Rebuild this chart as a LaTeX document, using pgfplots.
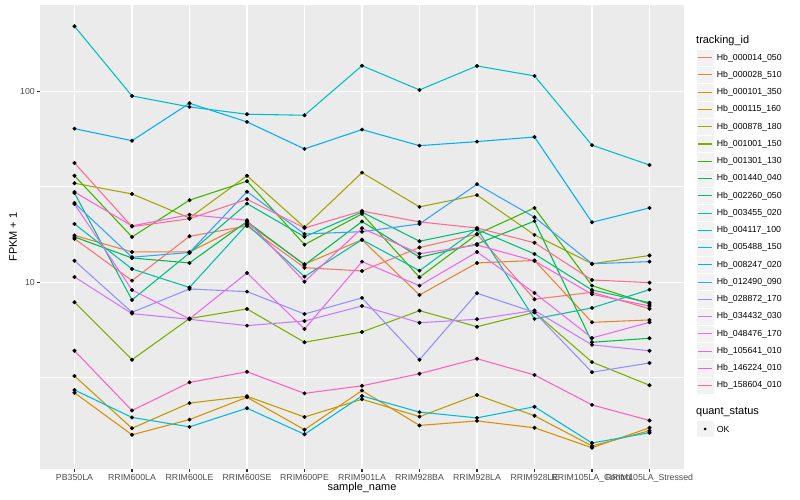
\documentclass[border=0pt]{standalone}
\usepackage{fontspec}
\setmainfont{Liberation Sans}
\usepackage{pgfplots}
\usepackage{pgfplotstable}
\pgfplotsset{compat=1.18}
\definecolor{c1}{HTML}{F8766D}
\definecolor{c2}{HTML}{EA8331}
\definecolor{c3}{HTML}{D89000}
\definecolor{c4}{HTML}{C09B00}
\definecolor{c5}{HTML}{A3A500}
\definecolor{c6}{HTML}{7CAE00}
\definecolor{c7}{HTML}{39B600}
\definecolor{c8}{HTML}{00BB4E}
\definecolor{c9}{HTML}{00BF7D}
\definecolor{c10}{HTML}{00C1A3}
\definecolor{c11}{HTML}{00BFC4}
\definecolor{c12}{HTML}{00BAE0}
\definecolor{c13}{HTML}{00B0F6}
\definecolor{c14}{HTML}{35A2FF}
\definecolor{c15}{HTML}{9590FF}
\definecolor{c16}{HTML}{C77CFF}
\definecolor{c17}{HTML}{E76BF3}
\definecolor{c18}{HTML}{FA62DB}
\definecolor{c19}{HTML}{FF62BC}
\definecolor{c20}{HTML}{FF6C91}
\definecolor{panel}{HTML}{EBEBEB}
\definecolor{keybg}{HTML}{F2F2F2}
\definecolor{ticklab}{HTML}{4D4D4D}
\definecolor{tickcol}{HTML}{333333}

\pgfplotstableread{
x s1 s2 s3 s4 s5 s6 s7 s8 s9 s10 s11 s12 s13 s14 s15 s16 s17 s18 s19 s20
0 16.9 17.6 2.64 3.23 33.0 7.86 36.1 17.27 29.3 20.2 218.9 2.73 63.7 26.0 12.97 10.66 25.7 29.7 4.38 42.1
1 10.2 14.41 1.59 1.72 29.0 3.93 17.27 13.4 8.08 11.74 94.5 1.96 55.1 13.52 6.96 6.85 9.11 19.72 2.13 19.55
2 17.4 14.41 1.91 2.33 21.7 6.46 26.9 12.62 14.23 9.39 82.8 1.75 86.5 14.32 9.22 6.40 6.43 22.6 2.99 21.5
3 19.72 20.4 2.50 2.53 36.1 7.25 33.8 20.8 25.8 20.1 75.8 2.19 69.1 29.8 8.93 5.93 11.19 21.1 3.40 27.2
4 11.92 12.42 1.69 1.97 19.4 4.85 15.74 12.32 17.3 10.7 74.9 1.60 49.9 17.9 6.82 6.27 5.69 10.07 2.62 19.24
5 11.46 16.7 2.71 2.44 37.5 5.49 22.8 20.8 23.3 16.7 136.1 2.54 63.0 18.4 8.28 7.51 12.82 19.17 2.87 23.6
6 15.2 8.58 1.78 1.98 24.8 7.10 10.62 13.52 16.4 11.5 101.6 2.09 51.9 20.2 3.93 6.14 9.60 14.11 3.32 20.7
7 17.84 12.62 1.88 2.57 28.6 5.85 17.84 15.87 18.9 19.08 135.7 1.95 54.5 32.6 8.76 6.40 14.41 15.68 3.98 19.24
8 8.15 13.0 1.73 2.00 17.7 6.96 24.5 20.9 14.07 6.43 120.3 2.23 57.6 21.9 6.96 7.12 8.79 12.93 3.27 16.1
9 8.86 6.17 1.36 1.39 12.5 3.82 9.60 4.85 9.11 7.34 52.2 1.44 20.6 12.5 3.38 4.70 5.11 8.65 2.28 10.28
10 7.27 6.35 1.73 1.67 13.8 2.89 7.70 5.09 7.82 9.15 41.1 1.63 24.5 12.82 3.78 4.38 6.17 7.51 1.89 9.95
}\datatab

\begin{document}
\begin{tikzpicture}
\useasboundingbox (0,0) rectangle (800bp,500bp);
\fill[white] (0,0) rectangle (800bp,500bp);
\begin{axis}[
  at={(40bp,31.1bp)}, anchor=south west,
  width=644bp, height=463.7bp, scale only axis,
  ymode=log, ymin=1.054, ymax=282.2,
  xmin=-0.6, xmax=10.6,
  axis background/.style={fill=panel},
  axis line style={draw=none},
  xtick={0,...,10},
  xticklabels={PB350LA,RRIM600LA,RRIM600LE,RRIM600SE,RRIM600PE,RRIM901LA,RRIM928BA,RRIM928LA,RRIM928LE,RRIM105LA\_Control,RRIM105LA\_Stressed},
  ytick={10,100}, yticklabels={10,100},
  minor ytick={3.16228,31.6228},
  minor tick length=0pt,
  grid=both,
  major grid style={white, line width=1.07bp},
  minor grid style={white, line width=0.53bp},
  tick pos=left,
  tick align=outside, major tick length=2.75bp,
  tick style={tickcol, line width=1.07bp},
  ticklabel style={font=\fontsize{8.8}{10}\selectfont, text=ticklab},
  xticklabel style={anchor=north, inner sep=0pt, yshift=-2.2bp},
  yticklabel style={anchor=east, inner sep=0pt, xshift=-2.2bp},
]
\pgfplotsinvokeforeach{1,...,20}{
  \addplot[color=c#1, line width=1.07bp, no marks] table[x=x, y=s#1] {\datatab};
}
\pgfplotsinvokeforeach{1,...,20}{
  \addplot[only marks, mark=*, mark size=1.8bp, black] table[x=x, y=s#1] {\datatab};
}
\end{axis}
\node[font=\fontsize{11}{13}\selectfont, rotate=90] at (13bp,263bp) {FPKM + 1};
\node[font=\fontsize{11}{13}\selectfont] at (362bp,12bp) {sample\_name};
\node[anchor=west, inner sep=0pt, font=\fontsize{11}{13}\selectfont] at (696bp,459.3bp) {tracking\_id};
\foreach \nm/\col [count=\i from 0] in {Hb\_000014\_050/c1,Hb\_000028\_510/c2,Hb\_000101\_350/c3,Hb\_000115\_160/c4,Hb\_000878\_180/c5,Hb\_001001\_150/c6,Hb\_001301\_130/c7,Hb\_001440\_040/c8,Hb\_002260\_050/c9,Hb\_003455\_020/c10,Hb\_004117\_100/c11,Hb\_005488\_150/c12,Hb\_008247\_020/c13,Hb\_012490\_090/c14,Hb\_028872\_170/c15,Hb\_034432\_030/c16,Hb\_048476\_170/c17,Hb\_105641\_010/c18,Hb\_146224\_010/c19,Hb\_158604\_010/c20}{
  \pgfmathsetmacro{\yy}{442.3-\i*17.26}
  \fill[keybg, draw=white, line width=0.5bp] (696.5bp,\yy bp-8.63bp) rectangle (713.8bp,\yy bp+8.63bp);
  \draw[draw=\col, line width=1.07bp] (698.2bp,\yy bp) -- (712.1bp,\yy bp);
  \node[anchor=west, inner sep=0pt, font=\fontsize{8.8}{10}\selectfont] at (716.7bp,\yy bp) {\nm};
}
\node[anchor=west, inner sep=0pt, font=\fontsize{11}{13}\selectfont] at (696bp,88.3bp) {quant\_status};
\fill[keybg, draw=white, line width=0.5bp] (696.5bp,62.4bp) rectangle (713.8bp,79.6bp);
\fill[black] (705.1bp,71bp) circle (1.5bp);
\node[anchor=west, inner sep=0pt, font=\fontsize{8.8}{10}\selectfont] at (716.7bp,71bp) {OK};
\end{tikzpicture}
\end{document}
